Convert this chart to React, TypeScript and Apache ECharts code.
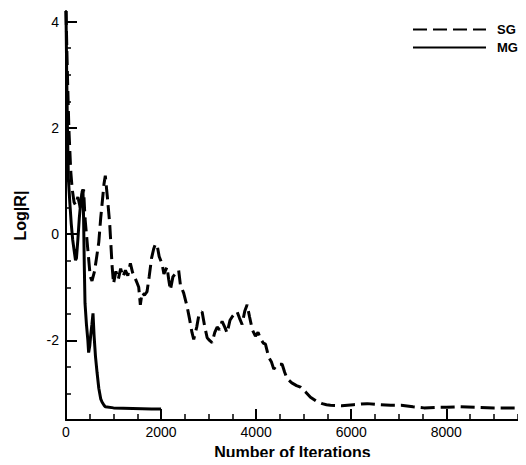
import React, { useEffect, useRef } from "react";
import * as echarts from "echarts";

const sgX = [0, 30, 60, 100, 130, 170, 200, 250, 300, 340, 370, 400, 450, 510, 547, 600, 650, 690, 730, 758, 800, 827, 870, 920, 970, 1000, 1050, 1100, 1150, 1200, 1250, 1300, 1354, 1400, 1450, 1500, 1530, 1564, 1600, 1650, 1705, 1750, 1800, 1844, 1880, 1915, 1960, 2021, 2060, 2126, 2160, 2196, 2250, 2300, 2370, 2406, 2476, 2547, 2600, 2650, 2687, 2750, 2800, 2863, 2920, 2970, 3020, 3073, 3130, 3180, 3230, 3284, 3340, 3389, 3450, 3500, 3550, 3600, 3650, 3705, 3760, 3810, 3860, 3920, 3985, 4040, 4100, 4150, 4196, 4266, 4320, 4371, 4450, 4547, 4600, 4652, 4750, 4850, 4933, 5040, 5143, 5260, 5389, 5480, 5564, 5800, 6050, 6337, 6600, 6830, 7050, 7300, 7530, 7800, 8000, 8300, 8600, 9000, 9300, 9530];
const sgY = [4.2, 3.0, 2.0, 1.18, 0.85, 0.6, 0.55, 0.7, 0.5, 0.75, 0.84, 0.3, -0.2, -0.8, -0.88, -0.7, -0.4, -0.15, 0.3, 0.56, 0.95, 1.1, 0.7, 0.19, -0.6, -0.93, -0.7, -0.85, -0.65, -0.8, -0.68, -0.78, -0.55, -0.72, -0.82, -0.93, -1.0, -1.33, -1.1, -1.15, -1.08, -0.8, -0.45, -0.28, -0.19, -0.2, -0.42, -0.56, -0.75, -0.62, -0.85, -1.05, -0.8, -0.75, -0.68, -0.95, -1.11, -1.36, -1.6, -1.85, -1.98, -1.75, -1.5, -1.46, -1.75, -1.95, -2.0, -2.04, -1.85, -1.75, -1.8, -1.64, -1.75, -1.86, -1.62, -1.55, -1.5, -1.46, -1.58, -1.7, -1.45, -1.33, -1.55, -1.8, -1.92, -1.85, -1.98, -2.05, -2.07, -2.32, -2.4, -2.54, -2.45, -2.45, -2.6, -2.72, -2.8, -2.85, -2.88, -2.97, -3.07, -3.14, -3.19, -3.21, -3.22, -3.23, -3.21, -3.19, -3.21, -3.22, -3.22, -3.25, -3.27, -3.26, -3.26, -3.25, -3.26, -3.27, -3.27, -3.27];

const mgX = [0, 15, 30, 50, 80, 110, 140, 170, 200, 220, 250, 280, 310, 340, 357, 370, 385, 400, 430, 460, 476, 500, 520, 545, 568, 590, 620, 653, 690, 730, 758, 800, 827, 1000, 1400, 1800, 2000];
const mgY = [4.2, 3.0, 2.0, 1.05, 0.6, 0.2, -0.1, -0.3, -0.49, -0.45, -0.1, 0.3, 0.6, 0.8, 0.84, 0.3, -0.6, -1.3, -1.7, -2.0, -2.23, -2.1, -1.9, -1.7, -1.49, -1.9, -2.3, -2.6, -2.9, -3.1, -3.16, -3.22, -3.25, -3.27, -3.28, -3.29, -3.29];

const xLabels = [0, 2000, 4000, 6000, 8000];
const xMinorTicks = [500, 1000, 1500, 2500, 3000, 3500, 4500, 5000, 5500, 6500, 7000, 7500, 8500, 9000, 9500];
const yLabels = [-2, 0, 2, 4];
const yMinorTicks = [-3, -2.5, -1.5, -1, -0.5, 0.5, 1, 1.5, 2.5, 3, 3.5];
const seriesNames = ["SG", "MG"];

const FONT = "Liberation Sans, Arial, Helvetica, sans-serif";

export default function App() {
  const ref = useRef<HTMLDivElement>(null);
  useEffect(() => {
    if (!ref.current) return;
    const chart = echarts.init(ref.current, null, { renderer: "svg" });
    const sg = sgX.map((x, i) => [x, sgY[i]]);
    const mg = mgX.map((x, i) => [x, mgY[i]]);
    const axisLine = { show: true, onZero: false, lineStyle: { color: "#000", width: 2 } };
    chart.setOption({
      animation: false,
      backgroundColor: "#fff",
      textStyle: { fontFamily: FONT },
      grid: { left: 66, right: 7, top: 11, bottom: 40 },
      legend: {
        orient: "vertical",
        left: 407,
        top: 18,
        itemWidth: 73,
        itemHeight: 14,
        itemGap: 5,
        data: seriesNames,
        itemStyle: { opacity: 0 },
        textStyle: { fontFamily: FONT, fontWeight: "bold", fontSize: 13, color: "#000", padding: [0, 0, 0, 6] },
      },
      xAxis: [
        {
          type: "value",
          min: 0,
          max: 9530,
          position: "bottom",
          name: "Number of Iterations",
          nameLocation: "middle",
          nameGap: 20,
          nameTextStyle: { fontFamily: FONT, fontWeight: "bold", fontSize: 16, color: "#000" },
          axisLine,
          axisTick: { show: true, inside: true, length: 11, lineStyle: { color: "#000", width: 2 }, customValues: xLabels },
          axisLabel: { show: true, color: "#000", fontSize: 14, fontFamily: FONT, margin: 5, customValues: xLabels, formatter: (v: number) => String(v) },
          splitLine: { show: false },
        },
        {
          type: "value",
          min: 0,
          max: 9530,
          position: "bottom",
          axisLine: { show: false, onZero: false },
          axisTick: { show: true, inside: true, length: 6, lineStyle: { color: "#000", width: 1.5 }, customValues: xMinorTicks },
          axisLabel: { show: false },
          splitLine: { show: false },
        },
      ],
      yAxis: [
        {
          type: "value",
          min: -3.5,
          max: 4.2,
          position: "left",
          name: "Log|R|",
          nameLocation: "middle",
          nameGap: 38,
          nameTextStyle: { fontFamily: FONT, fontWeight: "bold", fontSize: 16, color: "#000" },
          axisLine,
          axisTick: { show: true, inside: true, length: 11, lineStyle: { color: "#000", width: 2 }, customValues: yLabels },
          axisLabel: { show: true, color: "#000", fontSize: 14, fontFamily: FONT, margin: 7, customValues: yLabels, formatter: (v: number) => String(v) },
          splitLine: { show: false },
        },
        {
          type: "value",
          min: -3.5,
          max: 4.2,
          position: "left",
          axisLine: { show: false, onZero: false },
          axisTick: { show: true, inside: true, length: 5, lineStyle: { color: "#000", width: 1.5 }, customValues: yMinorTicks },
          axisLabel: { show: false },
          splitLine: { show: false },
        },
      ],
      series: [
        {
          name: "SG",
          type: "line",
          data: sg,
          xAxisIndex: 0,
          yAxisIndex: 0,
          symbol: "none",
          color: "#000",
          lineStyle: { color: "#000", width: 3, type: [14, 6] },
        },
        {
          name: "MG",
          type: "line",
          data: mg,
          xAxisIndex: 0,
          yAxisIndex: 0,
          symbol: "none",
          color: "#000",
          lineStyle: { color: "#000", width: 3, type: "solid" },
        },
      ],
    });
    return () => chart.dispose();
  }, []);
  return <div ref={ref} style={{ width: 526, height: 465, margin: -8 }} />;
}
